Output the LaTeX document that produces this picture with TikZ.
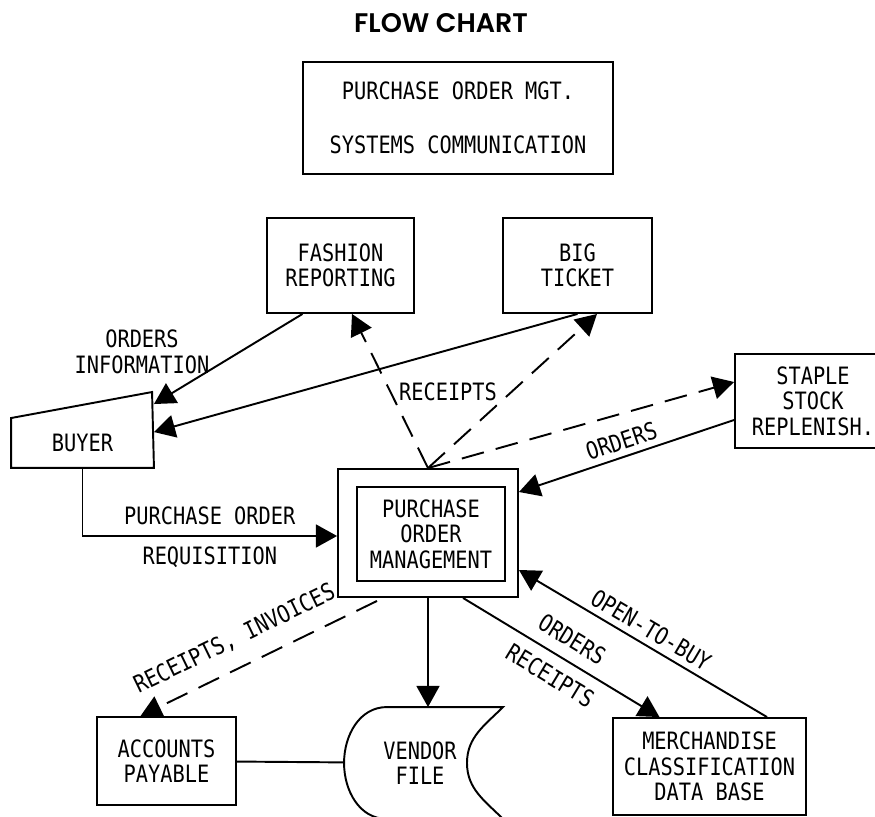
\documentclass[tikz,border=0pt]{standalone}
\usepackage{fontspec}
\newfontfamily\chartfont{DejaVu Sans Mono}[FakeStretch=0.85]
\newfontfamily\titlefont{Poppins SemiBold}
\usepackage{tikz}
\usetikzlibrary{arrows.meta}
\usetikzlibrary{calc}

\begin{document}
\begin{tikzpicture}[x=0.02cm, y=-0.02cm, line width=1.1pt,
    font=\chartfont\fontsize{13.6}{14.5}\selectfont,
    >={Triangle[length=12pt, width=13pt]},
    block/.style={draw, rectangle, align=center, inner sep=0pt},
    dashflow/.style={dash pattern=on 13pt off 7pt}]
  \useasboundingbox (0,0) rectangle (875,817);
  \clip (0,0) rectangle (875,817);

  \node (title) at (441,23) {\titlefont\fontsize{15.3}{17}\selectfont FLOW CHART};
  \node[block, minimum width=6.2cm, minimum height=2.24cm] (mgt) at (458,118)
    {PURCHASE ORDER MGT.\\[16pt]SYSTEMS COMMUNICATION};

  \node[block, minimum width=2.94cm, minimum height=1.9cm] (fashion) at (340.5,265.5) {FASHION\\REPORTING};
  \node[block, minimum width=2.98cm, minimum height=1.9cm] (bigticket) at (577.5,265.5) {BIG\\TICKET};
  \node[block, minimum width=3.12cm, minimum height=1.88cm] (staple) at (813,401) {STAPLE\\STOCK\\REPLENISH.};

  \node[minimum width=2.82cm, minimum height=0.96cm] (buyer) at (82.5,443) {BUYER};
  \draw (buyer.north west) -- ++(141,-26) -- (buyer.south east) -- (buyer.south west) -- cycle;

  \node[block, minimum width=3.6cm, minimum height=2.56cm] (pom) at (428,533) {};
  \node[block, minimum width=2.96cm, minimum height=1.88cm] (pominner) at (431,534) {PURCHASE\\ORDER\\MANAGEMENT};

  \node[block, minimum width=2.78cm, minimum height=1.76cm] (accounts) at (166.5,761) {ACCOUNTS\\PAYABLE};
  \node[align=center, minimum width=3cm, minimum height=2.2cm] (vendor) at (420,763) {VENDOR\\FILE};
  \draw ($(vendor.north)+(-33,0)$) -- ($(vendor.north)+(83,0)$)
    to[out=-135,in=90] ($(vendor.center)+(47,0)$)
    to[out=-90,in=135] ($(vendor.south)+(83,0)$) -- ($(vendor.south)+(-33,0)$)
    to[out=180,in=-90] (vendor.west) to[out=90,in=180] ($(vendor.north)+(-33,0)$);
  \node[block, minimum width=3.86cm, minimum height=1.94cm] (merch) at (709.5,766.5) {MERCHANDISE\\CLASSIFICATION\\DATA BASE};

  % into the buyer
  \draw[->] ($(fashion.south)+(-38,0)$) to ($(buyer.north east)+(0,-14)$);
  \draw[->] (bigticket.south) to ($(buyer.north east)+(0,14)$);
  \node[align=center] (ordersinfo) at (142,352) {ORDERS\\INFORMATION};

  % receipts out of the box
  \draw[->, dashflow] (pom.north) to ($(fashion.south)+(11.5,0)$);
  \draw[->, dashflow] (pom.north) to ($(bigticket.south)+(19.5,0)$);
  \draw[->, dashflow] (pom.north) to ($(staple.west)+(0,-19)$);
  \node (receipts) at (448,392) {RECEIPTS};
  \draw[->] ($(staple.west)+(0,19)$) to node[sloped, above] {ORDERS} ($(pom.east)+(0,-41)$);

  \draw[->] (buyer.south) |- node[pos=0.75, above=2.5pt] {PURCHASE ORDER}
    node[pos=0.75, below=2pt] {REQUISITION} ($(pom.west)+(0,3)$);

  % lower half
  \draw[->, dashflow] ($(pom.south)+(-51,3)$) to node[pos=0.55, sloped, above=6pt] {RECEIPTS, INVOICES} ($(accounts.north)+(-26,0)$);
  \draw[->] (pom.south) to (pom.south |- vendor.north);
  \draw (accounts) -- (vendor);
  \draw[->] ($(pom.south)+(35,0)$) to node[sloped, above=3pt] {ORDERS} node[sloped, below=3pt] {RECEIPTS} ($(merch.north)+(-50,0)$);
  \draw[->] ($(merch.north)+(57.5,0)$) to node[sloped, above] {OPEN-TO-BUY} ($(pom.east)+(0,37)$);
\end{tikzpicture}
\end{document}
